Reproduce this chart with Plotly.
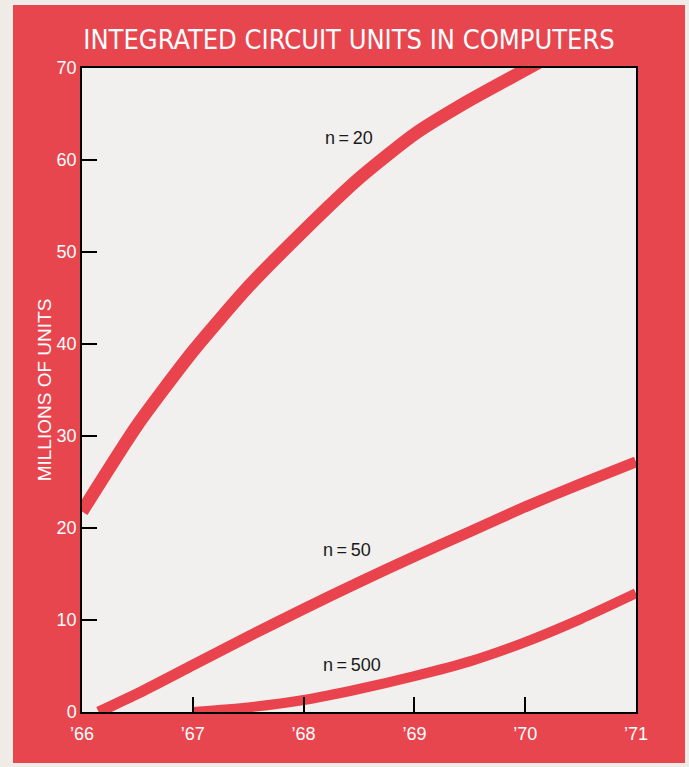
import plotly.graph_objects as go

# chart values
n20_years = [1966.0, 1966.5, 1967.0, 1967.5, 1968.0, 1968.5, 1969.0, 1969.5, 1970.0, 1970.3]
n20_units = [21.8, 31.2, 39.2, 46.2, 52.3, 58.0, 62.8, 66.5, 69.8, 71.8]

n50_years = [1966.15, 1966.5, 1967.0, 1967.5, 1968.0, 1968.5, 1969.0, 1969.5, 1970.0, 1970.5, 1971.0]
n50_units = [0.0, 2.0, 5.1, 8.2, 11.2, 14.1, 16.9, 19.6, 22.3, 24.8, 27.2]

n500_years = [1967.0, 1967.5, 1968.0, 1968.5, 1969.0, 1969.5, 1970.0, 1970.5, 1971.0]
n500_units = [0.0, 0.5, 1.3, 2.5, 3.9, 5.5, 7.6, 10.1, 12.9]

year_ticks = [1966, 1967, 1968, 1969, 1970, 1971]
year_labels = ["\u201966", "\u201967", "\u201968", "\u201969", "\u201970", "\u201971"]
unit_ticks = [0, 10, 20, 30, 40, 50, 60, 70]

curve_labels = ["n\u2009=\u200920", "n\u2009=\u200950", "n\u2009=\u2009500"]
label_x = [1968.41, 1968.39, 1968.44]
label_y = [62.4, 17.6, 5.1]

RED = "#e8464f"
LINE_RED = "#e9434d"
PAPER = "#efece7"
PLOT_BG = "#f2f0ee"

fig = go.Figure()
for xs, ys, w in [(n20_years, n20_units, 13), (n50_years, n50_units, 11), (n500_years, n500_units, 10)]:
    fig.add_trace(go.Scatter(
        x=xs, y=ys, mode="lines",
        line=dict(color=LINE_RED, width=w, shape="spline", smoothing=0.6),
        hoverinfo="skip", showlegend=False,
    ))

for txt, lx, ly in zip(curve_labels, label_x, label_y):
    fig.add_annotation(
        x=lx, y=ly, text=txt, showarrow=False,
        font=dict(family="Liberation Sans", size=18, color="#1a1a1a"),
    )

# paper is red; thin unprinted strips round the edge (in paper coords)
W, H = 689, 767
L, R, T, B = 82, 53, 68, 55
pw, ph = W - L - R, H - T - B
def px(x):
    return (x - L) / pw
def py(y):
    return (H - B - y) / ph
for x0, x1, y0, y1 in [(-5, 13, -5, H + 5), (685, W + 5, -5, H + 5), (-5, W + 5, -5, 5), (-5, W + 5, 763, H + 5)]:
    fig.add_shape(
        type="rect", xref="paper", yref="paper",
        x0=px(x0), x1=px(x1), y0=py(y1), y1=py(y0),
        fillcolor=PAPER, line_width=0, layer="below",
    )

fig.update_layout(
    width=W, height=H,
    margin=dict(l=L, r=R, t=T, b=B),
    paper_bgcolor=RED,
    plot_bgcolor=PLOT_BG,
    title=dict(
        text="INTEGRATED CIRCUIT UNITS IN COMPUTERS",
        x=349 / W, xanchor="center", xref="container",
        y=1 - 40 / H, yanchor="middle",
        font=dict(family="Liberation Sans Narrow, DejaVu Sans Condensed, sans-serif", size=27, color="white"),
    ),
    xaxis=dict(
        range=[1966, 1971],
        tickvals=year_ticks, ticktext=year_labels,
        ticks="inside", ticklen=15, tickwidth=1.5, tickcolor="black",
        showline=True, linecolor="black", linewidth=1.5, mirror=True,
        showgrid=False, zeroline=False, fixedrange=True,
        tickfont=dict(family="Liberation Sans", size=18, color="white"),
        ticklabelstandoff=5,
    ),
    yaxis=dict(
        range=[0, 70],
        tickvals=unit_ticks,
        ticks="inside", ticklen=15, tickwidth=1.5, tickcolor="black",
        showline=True, linecolor="black", linewidth=1.5, mirror=True,
        showgrid=False, zeroline=False, fixedrange=True,
        tickfont=dict(family="Liberation Sans", size=18, color="white"),
        ticklabelstandoff=0,
        title=dict(
            text="MILLIONS OF UNITS", standoff=0,
            font=dict(family="Liberation Sans", size=19, color="white"),
        ),
    ),
)

# drop the page's default body margin so the figure sits at the window corner
fig.write_html(
    "out.html",
    config={"displayModeBar": False},
    post_script="document.body.style.margin='0';document.body.style.overflow='hidden';",
)
